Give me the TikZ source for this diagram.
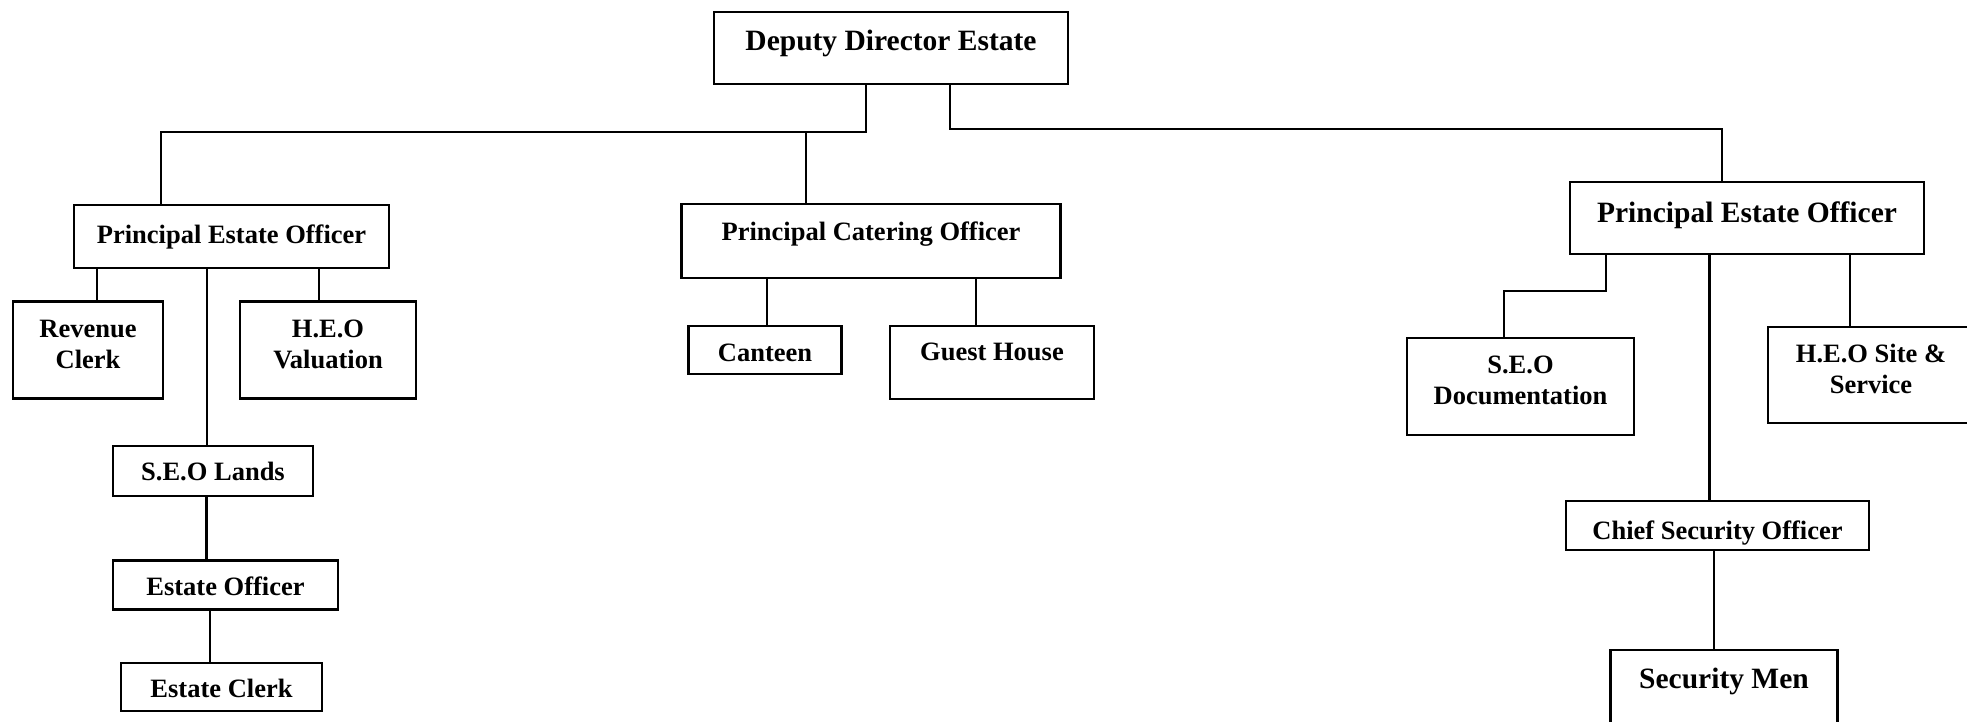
\documentclass[tikz,border=0pt]{standalone}
\usepackage{fontspec}
\setmainfont{Liberation Serif}

\begin{document}
\begin{tikzpicture}[x=1pt,y=-1pt,line width=2.2pt,
    box/.style 2 args={draw,inner sep=0pt,align=center,minimum width=#1pt,minimum height=#2pt,
      font=\bfseries\fontsize{26.5}{31}\selectfont},
    big/.style={font=\bfseries\fontsize{29.5}{34}\selectfont},
    twoline/.style={text depth=12pt}]
  \useasboundingbox (0,0) rectangle (1967,722);
  \node[box={354}{72},big,text depth=16pt] (dde) at (891,48) {Deputy Director Estate};
  \node[box={315}{63}] (peoL) at (231.5,236.5) {Principal Estate Officer};
  \node[box={379}{74},text depth=20pt] (pco) at (871,241) {Principal Catering Officer};
  \node[box={354}{72},big,text depth=12pt] (peoR) at (1747,218) {Principal Estate Officer};
  \node[box={150}{97},twoline] (rev) at (88,350) {Revenue\\Clerk};
  \node[box={176}{97},twoline] (heoV) at (328,350) {H.E.O\\Valuation};
  \node[box={200}{50}] (seoL) at (213,471) {S.E.O Lands};
  \node[box={225}{49},text height=21pt] (eo) at (225.5,585) {Estate Officer};
  \node[box={201}{48},text height=23pt] (ec) at (221.5,686.6) {Estate Clerk};
  \node[box={153}{48},text height=23pt] (can) at (765,350) {Canteen};
  \node[box={204}{73},text depth=21pt] (gh) at (992,362.3) {Guest House};
  \node[box={227}{97},twoline] (seoD) at (1520.5,386.5) {S.E.O\\Documentation};
  \node[box={206}{96},twoline] (heoS) at (1871,375) {H.E.O Site \&\\Service};
  \node[box={303}{49},text height=27pt,text depth=0pt] (cso) at (1717.5,525.5) {Chief Security Officer};
  \node[box={227}{120},big,text depth=63pt] (sm) at (1724,710) {Security Men};

  \coordinate (busL) at (866,132);
  \coordinate (busR) at (950,129);
  \coordinate (elb) at (1606,291);
  \draw ([xshift=-25pt]dde.south) -- (busL) -| ([xshift=-70.5pt]peoL.north);
  \draw ([xshift=-65pt]pco.north) -- ([xshift=-65pt]pco.north |- busL);
  \draw ([xshift=59pt]dde.south) -- (busR) -| ([xshift=-25pt]peoR.north);
  \draw ([xshift=-141pt]peoR.south) -- (elb) -| ([xshift=-16.5pt]seoD.north);
  \foreach \kid/\up/\dx in {rev/peoL/9, heoV/peoL/-9, seoL/peoL/-6, eo/seoL/-19, ec/eo/-11.5,
      can/pco/2, gh/pco/-16, heoS/peoR/-21, cso/peoR/-8, sm/cso/-10}
    \draw ([xshift=\dx pt]\kid.north) -- ([xshift=\dx pt]\kid.north |- \up.south);
\end{tikzpicture}
\end{document}
